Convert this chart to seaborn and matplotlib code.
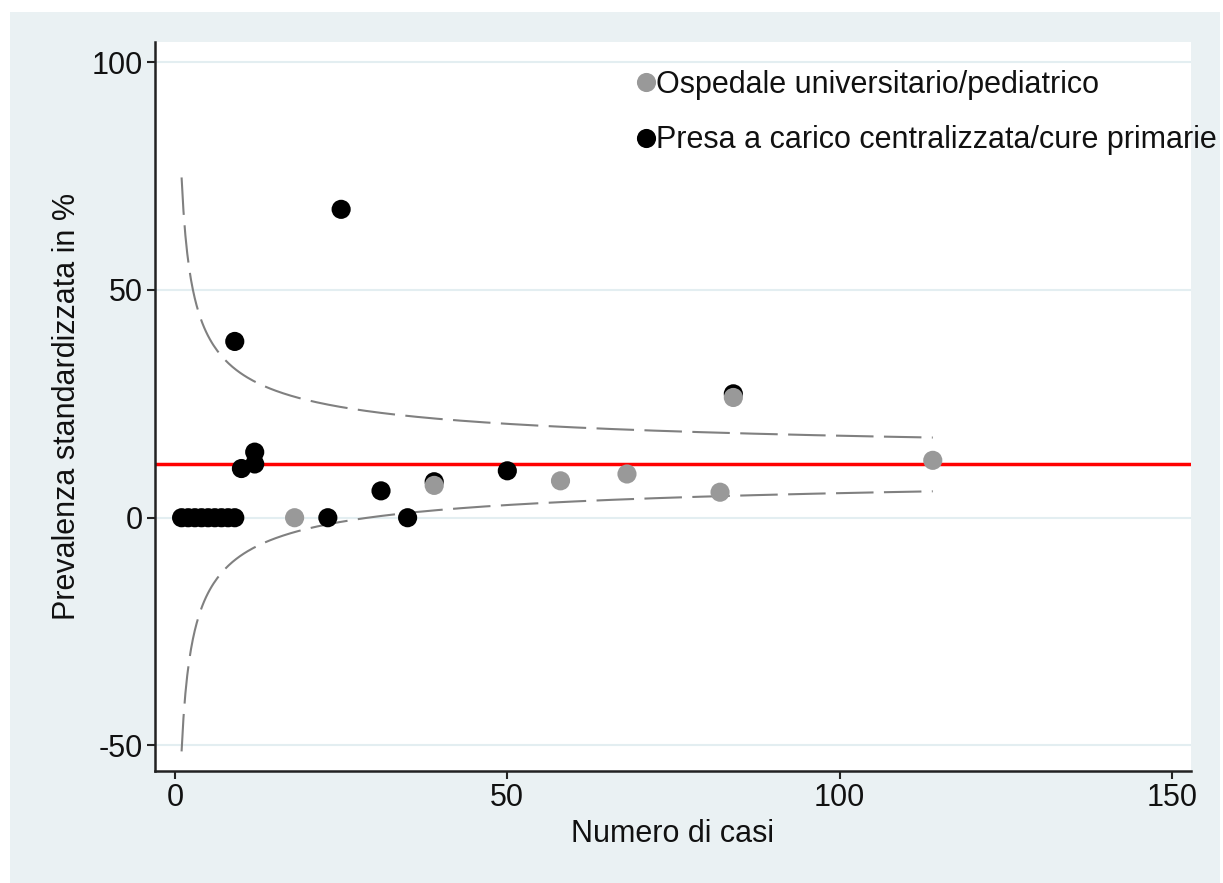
import numpy as np
import pandas as pd
import matplotlib
matplotlib.use('Agg')
import matplotlib.pyplot as plt
import seaborn as sns
from matplotlib.patches import Rectangle

# dati
cat_osp = 'Ospedale universitario/pediatrico'
cat_pres = 'Presa a carico centralizzata/cure primarie'

casi_pres = [1, 2, 3, 4, 5, 6, 7, 8, 9, 9, 10, 12, 12, 23, 25, 31, 35, 39, 50, 84]
prev_pres = [0, 0, 0, 0, 0, 0, 0, 0, 0, 38.7, 10.8, 11.8, 14.4, 0, 67.7, 5.9, 0, 7.9, 10.3, 27.2]

casi_osp = [18, 39, 58, 68, 82, 84, 114]
prev_osp = [0, 7.1, 8.1, 9.6, 5.6, 26.4, 12.6]

media = 11.7        # prevalenza media (linea rossa)
z = 1.96            # limiti di controllo al 95%
n_max = 114

# nero prima, grigio sopra
df = pd.DataFrame({
    'casi': casi_pres + casi_osp,
    'prev': prev_pres + prev_osp,
    'tipo': [cat_pres] * len(casi_pres) + [cat_osp] * len(casi_osp),
})

sns.set_style('ticks')
plt.rcParams['font.family'] = ['Liberation Sans', 'DejaVu Sans']
plt.rcParams['axes.unicode_minus'] = False
plt.rcParams['text.color'] = '#111111'
plt.rcParams['axes.labelcolor'] = '#111111'
plt.rcParams['xtick.color'] = '#111111'
plt.rcParams['ytick.color'] = '#111111'

fs = 22

fig = plt.figure(figsize=(12.23, 8.83), dpi=100)
fig.patch.set_facecolor('white')
bg = Rectangle((10 / 1223, 0), 1210 / 1223, 871 / 883,
               transform=fig.transFigure, facecolor='#eaf1f3',
               edgecolor='none', zorder=-10)
fig.add_artist(bg)

ax = fig.add_axes([155 / 1223, 112 / 883, 1035.7 / 1223, 729.3 / 883])
ax.set_zorder(1)
ax.set_facecolor('white')

for y in [-50, 0, 50, 100]:
    ax.axhline(y, color='#e3eef1', lw=1.5, zorder=0)

# funnel
n = np.linspace(1, n_max, 400)
p = media / 100
se = np.sqrt(p * (1 - p) / n) * 100
ax.plot(n, media + z * se, color='#808080', lw=1.5, dashes=(18, 5), zorder=1)
ax.plot(n, media - z * se, color='#808080', lw=1.5, dashes=(18, 5), zorder=1)

ax.axhline(media, color='#ff0000', lw=2.5, zorder=2)

sns.scatterplot(data=df, x='casi', y='prev', hue='tipo',
                hue_order=[cat_osp, cat_pres],
                palette={cat_osp: '#999999', cat_pres: '#000000'},
                s=190, linewidth=0, ax=ax, zorder=3)

ax.set_xlim(-3, 152.8)
ax.set_ylim(-55.6, 104.5)
ax.set_xticks([0, 50, 100, 150])
ax.set_yticks([-50, 0, 50, 100])
ax.tick_params(labelsize=fs, length=6, width=1.5, color='#222222', pad=3)
for s in ['top', 'right']:
    ax.spines[s].set_visible(False)
for s in ['left', 'bottom']:
    ax.spines[s].set_linewidth(1.8)
    ax.spines[s].set_color('#222222')

ax.set_xlabel('Numero di casi', fontsize=fs, labelpad=4)
ax.set_ylabel('Prevalenza standardizzata in %', fontsize=fs, labelpad=7)

leg = ax.legend(loc='upper left', bbox_to_anchor=(0.459, 0.961), frameon=False,
                fontsize=fs, borderpad=0, borderaxespad=0, handletextpad=-0.15,
                handlelength=1.0, labelspacing=0.82, markerscale=1.0)

fig.savefig('out.png', dpi=100, facecolor=fig.get_facecolor())
